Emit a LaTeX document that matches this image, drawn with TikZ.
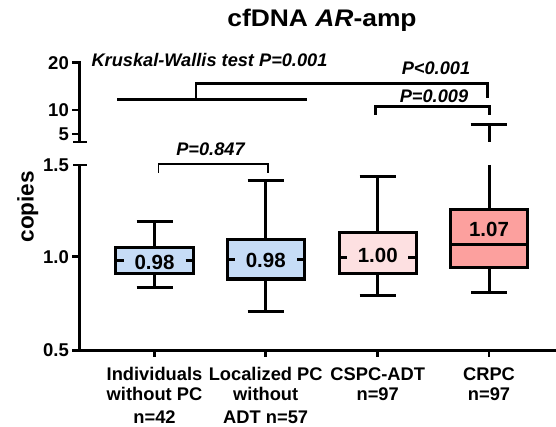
\documentclass[tikz,border=0pt]{standalone}
\usepackage{fontspec}
\setmainfont{Liberation Sans}
\definecolor{bxblue}{RGB}{198,220,246}
\definecolor{bxpink}{RGB}{253,224,225}
\definecolor{bxsalmon}{RGB}{252,160,158}
\tikzset{
  axisline/.style={line width=2.7pt},
  boxline/.style={line width=3pt},
  kwline/.style={line width=2.5pt},
  thinbr/.style={line width=1.7pt},
  ticklab/.style={anchor=east, inner sep=0pt, font=\fontsize{18.5}{20}\selectfont\bfseries},
  vallab/.style={inner sep=0pt, font=\fontsize{20.5}{22}\selectfont\bfseries},
  plab/.style={inner sep=0pt, font=\fontsize{18.2}{20}\selectfont\bfseries\itshape},
  xlab/.style={anchor=base, inner sep=0pt, font=\fontsize{18.3}{21.7}\selectfont\bfseries},
}
\begin{document}
\begin{tikzpicture}[x=1pt,y=-1pt]
\useasboundingbox (0,0) rectangle (556,427);
% title
\node[inner sep=0pt, font=\fontsize{24}{26}\selectfont\bfseries] (title) at (322,20)
  {\scalebox{1.1}[1]{cfDNA \textit{AR}-amp}};
% axes
\draw[axisline] (79.5,61) -- (79.5,142);
\draw[axisline] (73,142) -- (87,142);
\draw[axisline] (73,165) -- (87,165);
\draw[axisline] (79.5,165) -- (79.5,350.5) -- (556,350.5);
\foreach \yy in {62.7,110,134,256.7,350.5} \draw[axisline] (72,\yy) -- (79.5,\yy);
\foreach \xx in {154.5,265.7,377.7,489} \draw[axisline] (\xx,350.5) -- (\xx,357);
\node[ticklab] (t20) at (69,62.7) {20};
\node[ticklab] (t10) at (69,110) {10};
\node[ticklab] (t5) at (69,134) {5};
\node[ticklab] (t15) at (69,165) {1.5};
\node[ticklab] (t10b) at (69,256.7) {1.0};
\node[ticklab] (t05) at (69,350.5) {0.5};
\node[rotate=90, inner sep=0pt, font=\fontsize{22.6}{24}\selectfont\bfseries] (ylab) at (27.7,206.7) {copies};
% box 1
\draw[boxline] (154.5,222) -- (154.5,287);
\draw[boxline] (136.5,222) -- (172.5,222);
\draw[boxline] (136.5,287) -- (172.5,287);
\draw[boxline, fill=bxblue] (115.7,248) rectangle (193.3,274);
\draw[boxline] (115.7,261) -- (123.5,261) (185.5,261) -- (193.3,261);
\node[vallab] (m1) at (154.5,262) {0.98};
% box 2
\draw[boxline] (265.7,181) -- (265.7,311);
\draw[boxline] (247.7,181) -- (283.7,181);
\draw[boxline] (247.7,311) -- (283.7,311);
\draw[boxline, fill=bxblue] (227,239.3) rectangle (304.5,279);
\draw[boxline] (227,260) -- (234.5,260) (297,260) -- (304.5,260);
\node[vallab] (m2) at (265.7,260.5) {0.98};
% box 3
\draw[boxline] (377.7,176.7) -- (377.7,295);
\draw[boxline] (359.7,176.7) -- (395.7,176.7);
\draw[boxline] (359.7,295) -- (395.7,295);
\draw[boxline, fill=bxpink] (339.3,232.7) rectangle (416,273.3);
\draw[boxline] (339.3,257.3) -- (347,257.3) (408.3,257.3) -- (416,257.3);
\node[vallab] (m3) at (377.7,255.5) {1.00};
% box 4
\draw[boxline] (489,165) -- (489,292.3);
\draw[boxline] (489,124.3) -- (489,142);
\draw[boxline] (470.5,124.3) -- (507,124.3);
\draw[boxline] (471,292.3) -- (507,292.3);
\draw[boxline, fill=bxsalmon] (450.2,210) rectangle (527.8,267.3);
\draw[boxline] (450.2,245) -- (527.8,245);
\node[vallab] (m4) at (489,229.3) {1.07};
% significance
\draw[kwline] (117,99.3) -- (306.7,99.3);
\draw[kwline] (196,99.3) -- (196,83.3) -- (487.7,83.3) -- (487.7,97.7);
\draw[kwline] (375.7,115) -- (375.7,106.7) -- (489.3,106.7) -- (489.3,115);
\draw[thinbr] (158.5,172.7) -- (158.5,164.3) -- (267.7,164.3) -- (267.7,172.7);
\node[plab] (kw) at (209.5,60) {Kruskal-Wallis test P=0.001};
\node[plab] (p1) at (436,68.3) {P<0.001};
\node[plab] (p2) at (434,96.7) {P=0.009};
\node[plab] (p3) at (210.5,149.3) {P=0.847};
% x labels
\node[xlab] (a1) at (154.5,380) {Individuals};
\node[xlab] (a2) at (154.5,400.7) {without PC};
\node[xlab] (a3) at (154.5,423.3) {n=42};
\node[xlab] (b1) at (265.7,380) {Localized PC};
\node[xlab] (b2) at (265.7,400.7) {without};
\node[xlab] (b3) at (265.7,423.3) {ADT n=57};
\node[xlab] (c1) at (377.7,380) {CSPC-ADT};
\node[xlab] (c2) at (377.7,400.7) {n=97};
\node[xlab] (d1) at (489,380) {CRPC};
\node[xlab] (d2) at (489,400.7) {n=97};
\end{tikzpicture}
\end{document}
